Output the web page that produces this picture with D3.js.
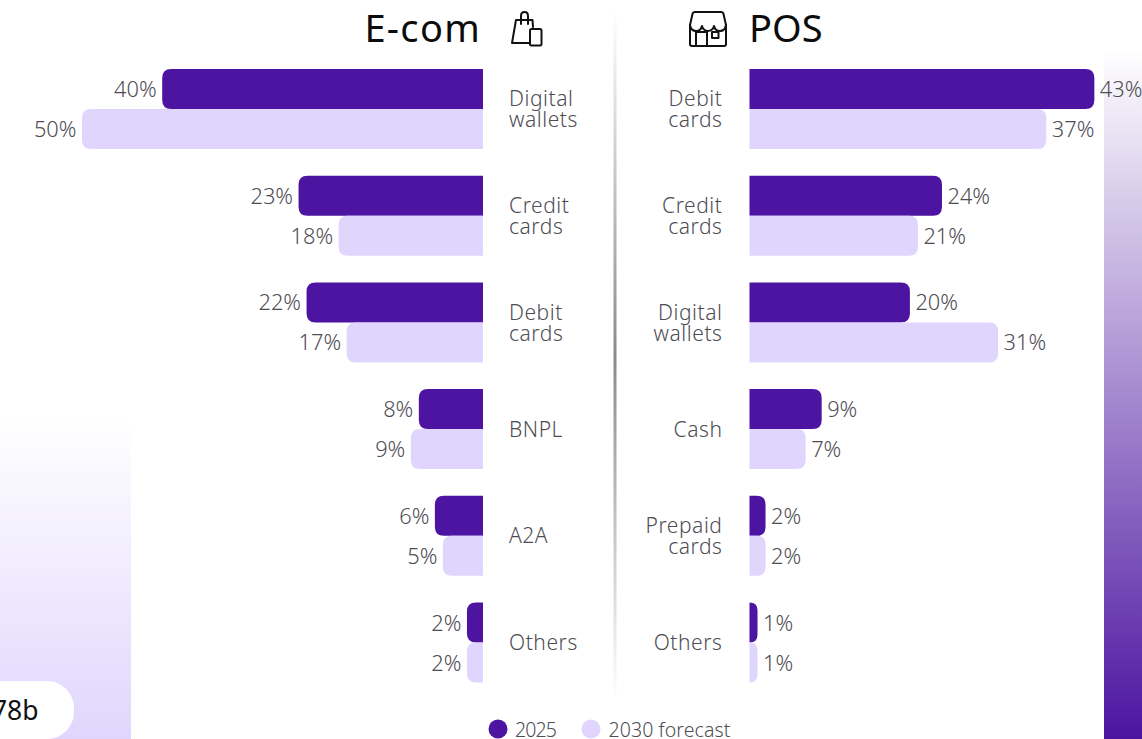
<!DOCTYPE html>
<html><head><meta charset="utf-8">
<script src="https://cdn.jsdelivr.net/npm/d3@7"></script>
<style>html,body{margin:0;padding:0;background:#fff;overflow:hidden}svg{display:block}
text{font-family:"Noto Sans",sans-serif}</style></head>
<body><svg id="c" width="1142" height="739"></svg>
<script>
const ecomCategories=[["Digital","wallets"],["Credit","cards"],["Debit","cards"],["BNPL"],["A2A"],["Others"]];
const ecom2025=[40,23,22,8,6,2];
const ecom2030=[50,18,17,9,5,2];
const posCategories=[["Debit","cards"],["Credit","cards"],["Digital","wallets"],["Cash"],["Prepaid","cards"],["Others"]];
const pos2025=[43,24,20,9,2,1];
const pos2030=[37,21,31,7,2,1];
const legendLabels=["2025","2030 forecast"];
const DARK="#4c14a0",LIGHT="#e0d6fd",TXT="#4e4d54";

const svg=d3.select("#c");
const defs=svg.append("defs");
function grad(id,stops){const g=defs.append("linearGradient").attr("id",id).attr("x1",0).attr("x2",0).attr("y1",0).attr("y2",1);
 stops.forEach(s=>g.append("stop").attr("offset",s[0]).attr("stop-color",s[1]).attr("stop-opacity",s[2]));}
grad("gl",[[0,"#e0d6fd",0],[1,"#e0d6fd",1]]);
grad("gr",[[0,"#4c14a0",0],[1,"#4c14a0",1]]);
grad("gd",[[0,"#8a8a8a",0],[.5,"#8a8a8a",1],[1,"#8a8a8a",0]]);

svg.append("rect").attr("x",0).attr("y",418).attr("width",131).attr("height",321).attr("fill","url(#gl)");
svg.append("rect").attr("x",1104).attr("y",50).attr("width",38).attr("height",689).attr("fill","url(#gr)");
svg.append("rect").attr("x",-60).attr("y",681).attr("width",134).attr("height",58).attr("rx",27).attr("fill","#fff");
svg.append("text").attr("x",38.5).attr("y",720).attr("text-anchor","end").attr("font-size",26.5).attr("fill","#111").text("78b");
svg.append("rect").attr("x",613.5).attr("y",10).attr("width",3).attr("height",690).attr("fill","url(#gd)");

const y=d3.scaleBand().domain(d3.range(6)).range([69,709.2]).paddingInner(0).paddingOuter(0);
const H=40,R=9;
const xL=d3.scaleLinear().domain([0,50]).range([483,82]);
const xR=d3.scaleLinear().domain([0,50]).range([749.5,1150.5]);

function leftBar(x0,x1,t,b,r){r=Math.min(r,Math.abs(x0-x1));return `M${x0},${t}H${x1+r}Q${x1},${t} ${x1},${t+r}V${b-r}Q${x1},${b} ${x1+r},${b}H${x0}Z`;}
function rightBar(x0,x1,t,b,r){r=Math.min(r,Math.abs(x1-x0));return `M${x0},${t}H${x1-r}Q${x1},${t} ${x1},${t+r}V${b-r}Q${x1},${b} ${x1-r},${b}H${x0}Z`;}

function panel(cats,a,b,x,side){
 const g=svg.append("g");
 const path=side<0?leftBar:rightBar;
 [[a,DARK,0],[b,LIGHT,H]].forEach(([vals,col,off])=>{
  g.selectAll(null).data(vals).join("path").attr("fill",col)
   .attr("d",(d,i)=>path(x(0),x(d),y(i)+off,y(i)+off+H,R));
  g.selectAll(null).data(vals).join("text").attr("x",d=>x(d)+side*5.5).attr("y",(d,i)=>y(i)+off+H/2+8)
   .attr("text-anchor",side<0?"end":"start").attr("font-size",21.8).attr("font-weight",300).attr("fill",TXT)
   .text(d=>d+"%");
 });
 const lx=side<0?509:722.5;
 const lab=g.selectAll(null).data(cats).join("text").attr("text-anchor",side<0?"start":"end")
  .attr("font-size",21).attr("font-weight",300).attr("fill",TXT).attr("letter-spacing",0.55);
 lab.each(function(d,i){
  const cy=y(i)+H;
  d3.select(this).selectAll("tspan").data(d).join("tspan").attr("x",lx)
   .attr("y",(s,k)=>cy+7.6+(k-(d.length-1)/2)*21).text(s=>s);
 });
}
panel(ecomCategories,ecom2025,ecom2030,xL,-1);
panel(posCategories,pos2025,pos2030,xR,1);

svg.append("text").attr("x",481).attr("y",42).attr("text-anchor","end").attr("font-size",38).attr("letter-spacing",1.3).attr("fill","#0c0c0c").text("E-com");
svg.append("text").attr("x",749).attr("y",42).attr("font-size",38).attr("fill","#0c0c0c").text("POS");

// shopping bag icon
const ic=svg.append("g").attr("fill","none").attr("stroke","#111").attr("stroke-width",2).attr("stroke-linejoin","round").attr("stroke-linecap","round");
ic.append("path").attr("d","M529,43H512L516,20H532.5L533,27M521,24V16Q521,12 524.5,12Q528,12 528,16V24");
ic.append("rect").attr("x",530).attr("y",29).attr("width",11.5).attr("height",16.5).attr("rx",1.5);
// store icon
ic.append("path").attr("d","M695,12H721Q723,12 723.5,14L726,25V31M695,12Q693,12 692.5,14L690,25V31");
ic.append("path").attr("d","M690,25Q691,31 696,31Q701,31 702,26Q703.5,31 708,31Q712.5,31 714,26Q715,31 720,31Q725,31 726,25");
ic.append("path").attr("d","M690,30V44Q690,46 692,46H724Q726,46 726,44V30");
ic.append("path").attr("d","M696,46V32H707V46");
ic.append("rect").attr("x",712).attr("y",32).attr("width",6.5).attr("height",6);

// legend
const lg=svg.append("g");
const legendX=[498,591],legendTX=[515,608.5],legendSpacing=[-0.9,0.1];
lg.selectAll("circle").data(legendLabels).join("circle").attr("cx",(d,i)=>legendX[i]).attr("cy",729).attr("r",9.5)
 .attr("fill",(d,i)=>i?LIGHT:DARK);
lg.selectAll("text").data(legendLabels).join("text").attr("x",(d,i)=>legendTX[i]).attr("y",737).attr("font-size",19.5)
 .attr("letter-spacing",(d,i)=>legendSpacing[i]).attr("font-weight",300).attr("fill",TXT).text(d=>d);
</script></body></html>
